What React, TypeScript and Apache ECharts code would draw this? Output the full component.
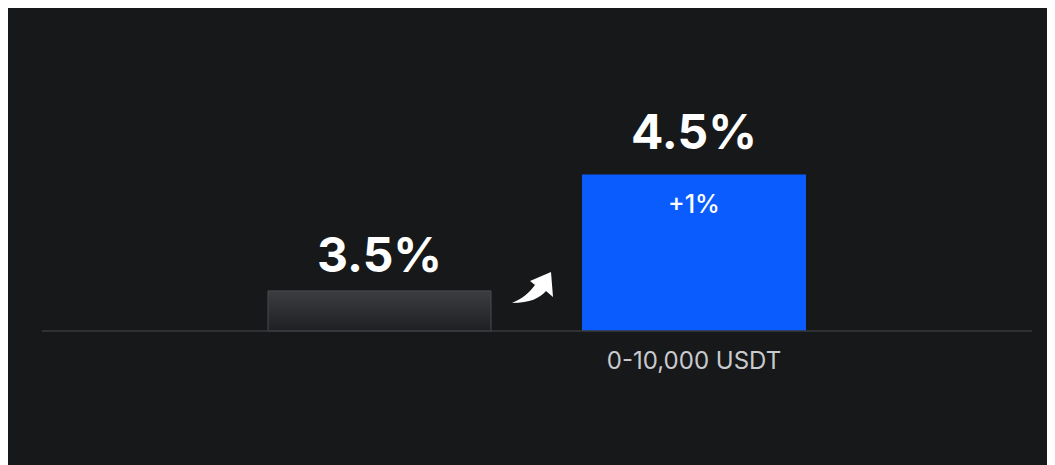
import React, { useEffect, useRef } from "react";
import * as echarts from "echarts";

const categories = ["", "0-10,000 USDT"];
const rates = [3.5, 4.5];
const boosts: (number | null)[] = [null, 1];

const ARROW_D =
  "M41 2 L43 27 L36 21 C30 28 20 33 2 33 C12 29 20 22 25 15 L20 11 Z";

let registered = false;
function registerArrow() {
  if (registered) return;
  echarts.graphic.registerShape("curvedArrow", echarts.graphic.extendPath(ARROW_D, {}) as any);
  registered = true;
}

export default function App() {
  const ref = useRef<HTMLDivElement>(null);
  useEffect(() => {
    if (!ref.current) return;
    registerArrow();
    const chart = echarts.init(ref.current, undefined, { renderer: "svg" });
    const font = "Inter, 'Noto Sans', sans-serif";
    chart.setOption({
      animation: false,
      backgroundColor: "#17181a",
      grid: { left: 214.25, right: 203.75, top: 108.4, bottom: 134, containLabel: false },
      xAxis: {
        type: "category",
        data: categories,
        axisLine: { show: false },
        axisTick: { show: false },
        axisLabel: { color: "#c9cacd", fontSize: 24, fontFamily: font, margin: 17 },
      },
      yAxis: {
        type: "value",
        min: 3.15,
        max: 5,
        show: false,
        splitLine: { show: false },
      },
      graphic: [
        {
          type: "line",
          shape: { x1: 34, y1: 323, x2: 1024, y2: 323 },
          style: { stroke: "#38393c", lineWidth: 1.5 },
          z: 100,
        },
        {
          type: "curvedArrow",
          x: 502,
          y: 262,
          style: { fill: "#ffffff" },
        },
      ],
      series: [
        {
          type: "bar",
          data: rates.map((v, i) => ({
            value: v,
            label: { distance: i === 0 ? 12 : 19 },
            itemStyle:
              i === 0
                ? {
                    color: new echarts.graphic.LinearGradient(0, 0, 0, 1, [
                      { offset: 0, color: "#3c3d40" },
                      { offset: 1, color: "#1e1f22" },
                    ]),
                    borderColor: "#4a4b4e",
                    borderWidth: 1,
                  }
                : { color: "#0a5cff" },
          })),
          barWidth: 224,
          barGap: "-100%",
          label: {
            show: true,
            position: "top",
            color: "#ffffff",
            fontSize: 48,
            fontWeight: "bold",
            fontFamily: font,
            formatter: (p: any) => `${p.value}%`,
          },
        },
        {
          type: "bar",
          data: boosts.map((b, i) => (b === null ? null : rates[i])),
          barWidth: 224,
          barGap: "-100%",
          itemStyle: { color: "rgba(0,0,0,0)" },
          label: {
            show: true,
            position: "insideTop",
            distance: 17,
            color: "#ffffff",
            fontSize: 25,
            fontWeight: 500,
            fontFamily: font,
            formatter: (p: any) => {
              const b = boosts[p.dataIndex];
              return b === null ? "" : `+${b}%`;
            },
          },
        },
      ],
    });
    return () => chart.dispose();
  }, []);
  return <div ref={ref} style={{ width: 1047, height: 457 }} />;
}
